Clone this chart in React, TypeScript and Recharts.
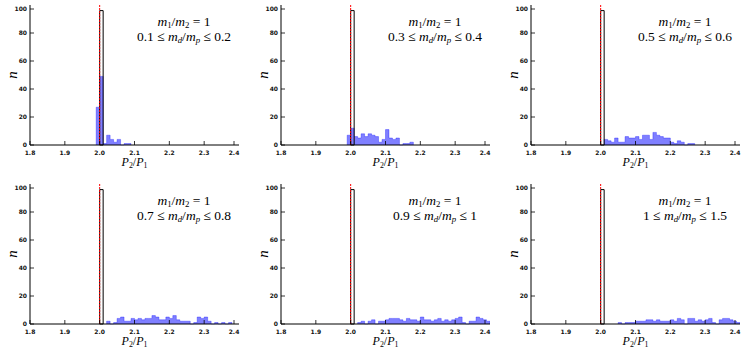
import React from "react";
import {
  ComposedChart,
  Area,
  XAxis,
  YAxis,
  ReferenceArea,
  ReferenceLine,
} from "recharts";

// histogram counts, bin width 0.01, starting at the given bin edge
const start1 = 1.99;
const counts1 = [27, 49, 1, 7, 4, 2, 4, 0, 1, 1];
const start2 = 1.99;
const counts2 = [7, 12, 6, 5, 8, 6, 8, 7, 6, 2, 4, 11, 5, 4, 5, 0, 1, 1, 2];
const start3 = 2.01;
const counts3 = [4, 3, 2, 5, 2, 2, 6, 5, 5, 6, 4, 7, 7, 4, 9, 7, 6, 5, 5, 2, 1, 3, 2, 0, 1, 1];
const start4 = 2.02;
const counts4 = [
  2, 0, 1, 4, 5, 2, 2, 4, 3, 4, 3, 4, 4, 6, 5, 3, 3, 5, 4, 6, 3, 2, 2, 2, 0, 1,
  5, 4, 5, 2, 0, 1, 0, 1, 0, 1,
];
const start5 = 2.02;
const counts5 = [
  1, 2, 0, 2, 3, 0, 2, 2, 3, 4, 4, 4, 3, 2, 4, 3, 3, 2, 5, 3, 3, 2, 3, 4, 2, 3,
  2, 3, 4, 5, 1, 0, 2, 2, 5, 4, 3, 2,
];
const start6 = 2.05;
const counts6 = [
  1, 0, 1, 1, 1, 2, 2, 2, 3, 3, 2, 3, 2, 2, 2, 3, 2, 4, 3, 0, 4, 4, 2, 3, 2, 3,
  4, 1, 0, 3, 4, 4, 3, 2, 1,
];

// the single-bin reference histogram (black outline) and the resonance line
const peakBin = [2.0, 2.01];
const peakCount = 96;
const resonance = 2.0;

const ratioLow = ["0.1", "0.3", "0.5", "0.7", "0.9", "1"];
const ratioHigh = ["0.2", "0.4", "0.6", "0.8", "1", "1.5"];

const xTicks = [1.8, 1.9, 2.0, 2.1, 2.2, 2.3, 2.4];
const yTicks = [0, 20, 40, 60, 80, 100];

const binWidth = 0.01;

function toSteps(start: number, counts: number[]) {
  const pts = [{ x: start, n: 0 }];
  counts.forEach((c, i) => pts.push({ x: +(start + i * binWidth).toFixed(3), n: c }));
  pts.push({ x: +(start + counts.length * binWidth).toFixed(3), n: 0 });
  return pts;
}

const series = [
  toSteps(start1, counts1),
  toSteps(start2, counts2),
  toSteps(start3, counts3),
  toSteps(start4, counts4),
  toSteps(start5, counts5),
  toSteps(start6, counts6),
];

const colLeft = [30, 281, 531];
const plotW = 209;
const rowTop = [5, 184];
const plotH = 140;

const tickFont = { fontFamily: "DejaVu Sans", fontSize: 6, fontWeight: 700, fill: "#111" };

const BottomTick = (props: any) => {
  const { x, y, payload } = props;
  return (
    <g>
      <line x1={x} x2={x} y1={y} y2={y - 4} stroke="#000" strokeWidth={0.8} />
      <text x={x} y={y + 9.5} textAnchor="middle" {...tickFont}>
        {Number(payload.value).toFixed(1)}
      </text>
    </g>
  );
};

const TopTick = (props: any) => {
  const { x, y } = props;
  return <line x1={x} x2={x} y1={y} y2={y + 4} stroke="#000" strokeWidth={0.8} />;
};

const LeftTick = (props: any) => {
  const { x, y, payload } = props;
  return (
    <g>
      <line x1={x} x2={x + 4} y1={y} y2={y} stroke="#000" strokeWidth={0.8} />
      <text x={x - 3} y={y + 2} textAnchor="end" {...tickFont}>
        {payload.value}
      </text>
    </g>
  );
};

const RightTick = (props: any) => {
  const { x, y } = props;
  return <line x1={x} x2={x - 4} y1={y} y2={y} stroke="#000" strokeWidth={0.8} />;
};

const math: React.CSSProperties = { fontFamily: "Liberation Serif", fontStyle: "italic" };
const sub: React.CSSProperties = { fontSize: "65%", position: "relative", top: 2 };

function Panel({ idx }: { idx: number }) {
  const left = colLeft[idx % 3];
  const top = rowTop[Math.floor(idx / 3)];
  return (
    <>
      <div style={{ position: "absolute", left: left - 30, top: top - 5 }}>
        <ComposedChart
          width={30 + plotW + 5}
          height={5 + plotH + 30}
          data={series[idx]}
          margin={{ top: 5, right: 5, bottom: 0, left: 0 }}
        >
          <XAxis
            xAxisId="b"
            type="number"
            dataKey="x"
            domain={[1.8, 2.4]}
            ticks={xTicks}
            allowDataOverflow
            height={30}
            tickSize={0}
            tickMargin={0}
            tick={<BottomTick />}
            axisLine={{ stroke: "#000" }}
          />
          <XAxis
            xAxisId="t"
            orientation="top"
            type="number"
            dataKey="x"
            domain={[1.8, 2.4]}
            ticks={xTicks}
            allowDataOverflow
            height={0}
            tickSize={0}
            tickMargin={0}
            tick={<TopTick />}
            axisLine={{ stroke: "#000" }}
          />
          <YAxis
            yAxisId="l"
            type="number"
            domain={[0, 100]}
            ticks={yTicks}
            width={30}
            tickSize={0}
            tickMargin={0}
            tick={<LeftTick />}
            axisLine={{ stroke: "#000" }}
          />
          <YAxis
            yAxisId="r"
            orientation="right"
            type="number"
            domain={[0, 100]}
            ticks={yTicks}
            width={0}
            tickSize={0}
            tickMargin={0}
            tick={<RightTick />}
            axisLine={{ stroke: "#000" }}
          />
          <Area
            xAxisId="b"
            yAxisId="l"
            type="stepAfter"
            dataKey="n"
            fill="#0000ff"
            fillOpacity={0.5}
            stroke="#0000ff"
            strokeOpacity={0.4}
            strokeWidth={0.8}
            dot={false}
            activeDot={false}
            isAnimationActive={false}
          />
          <ReferenceArea
            xAxisId="b"
            yAxisId="l"
            x1={peakBin[0]}
            x2={peakBin[1]}
            y1={0}
            y2={peakCount}
            fill="none"
            stroke="#000"
            strokeWidth={1}
          />
          <ReferenceLine
            xAxisId="b"
            yAxisId="l"
            x={resonance}
            stroke="#ff0000"
            strokeDasharray="2 1"
            strokeWidth={1}
          />
        </ComposedChart>
      </div>
      <div
        style={{
          position: "absolute",
          left: left + 154 - 60,
          width: 120,
          top: top + 10,
          display: "flex",
          flexDirection: "column",
          alignItems: "center",
          fontFamily: "Liberation Serif",
          fontSize: 13.5,
          lineHeight: "14px",
          color: "#000",
          whiteSpace: "nowrap",
        }}
      >
        <div>
          <span style={math}>m</span>
          <span style={sub}>1</span>/<span style={math}>m</span>
          <span style={sub}>2</span> = 1
        </div>
        <div>
          {ratioLow[idx]} ≤ <span style={math}>m</span>
          <span style={{ ...sub, ...math }}>d</span>/<span style={math}>m</span>
          <span style={{ ...sub, ...math }}>p</span> ≤ {ratioHigh[idx]}
        </div>
      </div>
      <div
        style={{
          position: "absolute",
          left: left - 24,
          top: top + plotH / 2 - 8,
          width: 12,
          textAlign: "center",
          transform: "rotate(-90deg)",
          fontFamily: "Liberation Serif",
          fontStyle: "italic",
          fontSize: 15,
          lineHeight: "16px",
        }}
      >
        n
      </div>
      <div
        style={{
          position: "absolute",
          left: left,
          width: plotW,
          top: top + plotH + 11,
          textAlign: "center",
          fontFamily: "Liberation Serif",
          fontSize: 12,
          lineHeight: "12px",
          whiteSpace: "nowrap",
        }}
      >
        <span style={math}>P</span>
        <span style={sub}>2</span>/<span style={math}>P</span>
        <span style={sub}>1</span>
      </div>
    </>
  );
}

export default function App() {
  return (
    <div
      style={{
        position: "absolute",
        left: 0,
        top: 0,
        width: 748,
        height: 351,
        background: "#fff",
        overflow: "hidden",
      }}
    >
      {[0, 1, 2, 3, 4, 5].map((i) => (
        <Panel key={i} idx={i} />
      ))}
    </div>
  );
}
